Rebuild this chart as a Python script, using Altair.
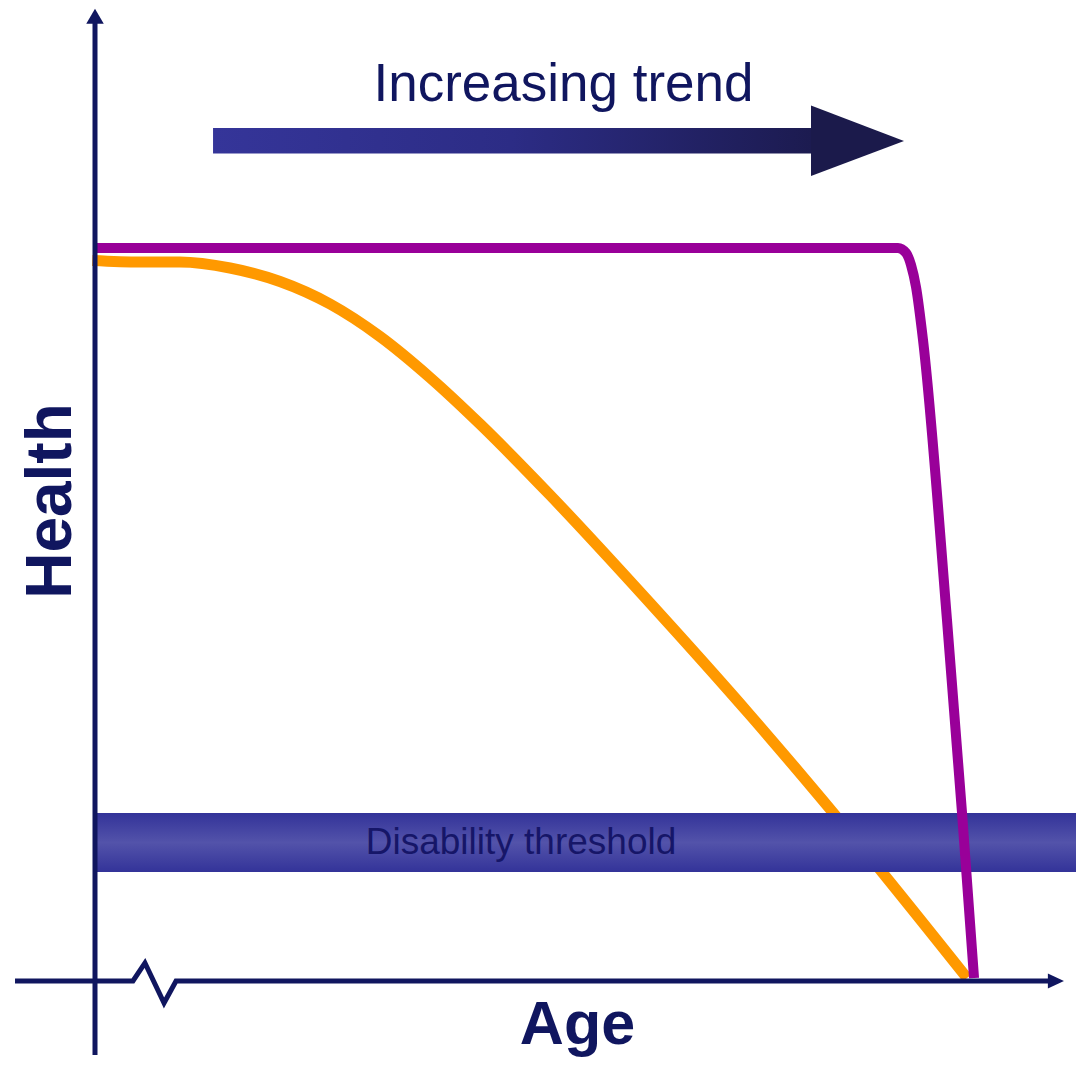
import altair as alt
import pandas as pd

# ---- data (Age / Health in arbitrary conceptual units) ----
orange_age = [-0.3, 5.14, 9.71, 15.43, 21.14, 26.86, 32.57, 38.29, 44.0, 52.0, 63.43, 74.86, 86.29, 99.66]
orange_health = [98.3, 98.09, 98.09, 97.27, 95.43, 92.36, 87.93, 82.33, 75.99, 66.30, 51.57, 36.29, 20.19, 0.41]

purple_age = [0.0, 91.77, 92.69, 93.26, 93.83, 94.63, 97.37, 99.09, 100.46]
purple_health = [100.0, 100.0, 99.32, 97.68, 94.68, 87.45, 49.25, 22.92, 0.41]

threshold_age = [0.0, 113.0]
threshold_health = [14.87, 22.92]
threshold_label = "Disability threshold"

trend_bar_age = [13.49, 81.83]
trend_bar_health = [112.89, 116.37]
trend_head_age = [81.83, 92.46]
trend_head_top = [119.44, 114.60]
trend_head_bot = [109.82, 114.60]
trend_label = "Increasing trend"

xaxis_age = [-9.14, 4.34, 5.71, 7.89, 9.26, 109.0]
xaxis_health = [0.0, 0.0, 2.46, -3.0, 0.0, 0.0]
xhead_age = [108.9, 110.74]
xhead_top = [1.02, 0.0]
xhead_bot = [-1.02, 0.0]

yaxis_health = [-10.1, 130.7]
yhead_health = [130.6, 132.65]
yhead_left = [-1.0, 0.0]
yhead_right = [1.0, 0.0]

x_title, y_title = "Age", "Health"

NAVY = "#10165f"
FONT = "Liberation Sans"

xs = alt.Scale(domain=[-9.943, 112.114], nice=False, zero=False)
ys = alt.Scale(domain=[-10.505, 132.742], nice=False, zero=False)


def X(f):
    return alt.X(f"{f}:Q", scale=xs, axis=None)


def Y(f):
    return alt.Y(f"{f}:Q", scale=ys, axis=None)


orange = alt.Chart(pd.DataFrame({"a": orange_age, "h": orange_health})).mark_line(
    interpolate="monotone", color="#ff9900", strokeWidth=11
).encode(x=X("a"), y=Y("h"))

purple = alt.Chart(pd.DataFrame({"a": purple_age, "h": purple_health})).mark_line(
    interpolate="monotone", color="#990099", strokeWidth=10
).encode(x=X("a"), y=Y("h"))

band_grad = alt.Gradient(
    gradient="linear",
    stops=[
        alt.GradientStop(color="#333399", offset=0),
        alt.GradientStop(color="#5353aa", offset=0.5),
        alt.GradientStop(color="#333399", offset=1),
    ],
    x1=0, x2=0, y1=0, y2=1,
)
band = alt.Chart(pd.DataFrame({
    "a0": [threshold_age[0]], "a1": [threshold_age[1]],
    "h0": [threshold_health[0]], "h1": [threshold_health[1]],
})).mark_rect(fill=band_grad).encode(
    x=X("a0"), x2=alt.X2("a1"), y=Y("h0"), y2=alt.Y2("h1")
)
band_text = alt.Chart(pd.DataFrame({"a": [48.69], "h": [18.83], "t": [threshold_label]})).mark_text(
    font=FONT, fontSize=37, color="#161668", baseline="middle", align="center"
).encode(x=X("a"), y=Y("h"), text="t:N")

bar_grad = alt.Gradient(
    gradient="linear",
    stops=[
        alt.GradientStop(color="#353599", offset=0),
        alt.GradientStop(color="#2c2c85", offset=0.5),
        alt.GradientStop(color="#1c1b50", offset=1),
    ],
    x1=0, x2=1, y1=0, y2=0,
)
trend_bar = alt.Chart(pd.DataFrame({
    "a0": [trend_bar_age[0]], "a1": [trend_bar_age[1]],
    "h0": [trend_bar_health[0]], "h1": [trend_bar_health[1]],
})).mark_rect(fill=bar_grad).encode(
    x=X("a0"), x2=alt.X2("a1"), y=Y("h0"), y2=alt.Y2("h1")
)
trend_head = alt.Chart(pd.DataFrame({"a": trend_head_age, "t": trend_head_top, "b": trend_head_bot})).mark_area(
    color="#1b1a4b", interpolate="linear"
).encode(x=X("a"), y=Y("t"), y2=alt.Y2("b"))
trend_text = alt.Chart(pd.DataFrame({"a": [53.54], "h": [120.05], "t": [trend_label]})).mark_text(
    font=FONT, fontSize=53, color=NAVY, baseline="alphabetic", align="center"
).encode(x=X("a"), y=Y("h"), text="t:N")

xaxis = alt.Chart(pd.DataFrame({"a": xaxis_age, "h": xaxis_health, "o": list(range(len(xaxis_age)))})).mark_line(
    color=NAVY, strokeWidth=5, strokeJoin="miter"
).encode(x=X("a"), y=Y("h"), order="o:Q")
xhead = alt.Chart(pd.DataFrame({"a": xhead_age, "t": xhead_top, "b": xhead_bot})).mark_area(
    color=NAVY
).encode(x=X("a"), y=Y("t"), y2=alt.Y2("b"))

yaxis = alt.Chart(pd.DataFrame({"a": [0.0, 0.0], "h": yaxis_health})).mark_line(
    color=NAVY, strokeWidth=5
).encode(x=X("a"), y=Y("h"))
yhead = alt.Chart(pd.DataFrame({"h": yhead_health, "l": yhead_left, "r": yhead_right})).mark_area(
    color=NAVY, orient="horizontal"
).encode(y=Y("h"), x=X("l"), x2=alt.X2("r"))

age_lbl = alt.Chart(pd.DataFrame({"a": [55.14], "h": [-8.59], "t": [x_title]})).mark_text(
    font=FONT, fontSize=61, fontWeight="bold", color=NAVY, baseline="alphabetic", align="center"
).encode(x=X("a"), y=Y("h"), text="t:N")
health_lbl = alt.Chart(pd.DataFrame({"a": [-2.74], "h": [65.48], "t": [y_title]})).mark_text(
    font=FONT, fontSize=64, fontWeight="bold", color=NAVY, baseline="alphabetic", align="center", angle=270
).encode(x=X("a"), y=Y("h"), text="t:N")

chart = alt.layer(
    orange, band, band_text, purple, trend_bar, trend_head, trend_text,
    xaxis, xhead, yaxis, yhead, age_lbl, health_lbl
).properties(
    width=1068, height=1050, padding=0, autosize=alt.AutoSizeParams(type="none")
).configure_view(stroke=None)

chart.save("out.html", embed_options={"renderer": "svg", "actions": False})
